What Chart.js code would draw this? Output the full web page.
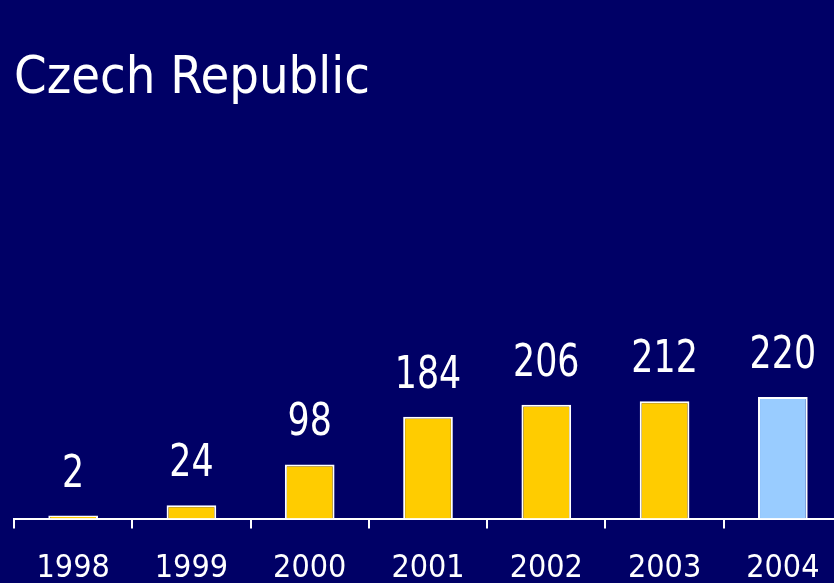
<!DOCTYPE html>
<html>
<head>
<meta charset="utf-8">
<style>
  html, body { margin: 0; padding: 0; background: #000066; overflow: hidden; }
  canvas { display: block; }
</style>
</head>
<body>
<canvas id="czechChart" width="870" height="617"></canvas>
<script src="https://cdn.jsdelivr.net/npm/chart.js"></script>
<script>
    const years = ['1998', '1999', '2000', '2001', '2002', '2003', '2004'];
    const values = [2, 24, 98, 184, 206, 212, 220];
    const barColors = ['#FFCC00', '#FFCC00', '#FFCC00', '#FFCC00', '#FFCC00', '#FFCC00', '#99CCFF'];

    const narrow = "'Liberation Sans Narrow', 'DejaVu Sans Condensed', sans-serif";

    // numbers above the bars, squeezed a little to look like the condensed original
    const valueLabels = {
        id: 'valueLabels',
        afterDatasetsDraw(chart) {
            const ctx = chart.ctx;
            const meta = chart.getDatasetMeta(0);
            meta.data.forEach((bar, i) => {
                ctx.save();
                ctx.fillStyle = '#FFFFFF';
                ctx.font = '44px ' + narrow;
                ctx.textAlign = 'center';
                ctx.textBaseline = 'alphabetic';
                ctx.translate(bar.x, bar.y - 29);
                ctx.scale(0.88, 1);
                ctx.fillText(String(values[i]), 0, 0);
                ctx.restore();
            });
        }
    };

    document.addEventListener("DOMContentLoaded", function() {
        const ctx = document.getElementById('czechChart').getContext('2d');
        new Chart(ctx, {
            type: 'bar',
            data: {
                labels: years,
                datasets: [{
                    data: values,
                    backgroundColor: barColors,
                    borderColor: '#FFFFFF',
                    borderWidth: 2,
                    minBarLength: 3,
                    barPercentage: 0.42,
                    categoryPercentage: 1.0
                }]
            },
            options: {
                responsive: false,
                animation: false,
                layout: { padding: { left: 14, right: 28, top: 0, bottom: 8 } },
                plugins: {
                    legend: { display: false },
                    tooltip: { enabled: false },
                    title: {
                        display: true,
                        text: 'Czech Republic',
                        align: 'start',
                        color: '#FFFFFF',
                        font: { family: narrow, size: 52, weight: 'normal', lineHeight: 1.2 },
                        padding: { top: 48, bottom: 187 }
                    }
                },
                scales: {
                    x: {
                        grid: {
                            drawOnChartArea: false,
                            drawTicks: true,
                            tickLength: 10,
                            color: '#FFFFFF',
                            lineWidth: 2
                        },
                        border: { display: true, color: '#FFFFFF', width: 2 },
                        ticks: {
                            color: '#FFFFFF',
                            padding: 21,
                            font: { family: narrow, size: 32, lineHeight: 1.2 }
                        }
                    },
                    y: {
                        display: false,
                        min: 0,
                        max: 400
                    }
                }
            },
            plugins: [valueLabels]
        });
    });
</script>
</body>
</html>
